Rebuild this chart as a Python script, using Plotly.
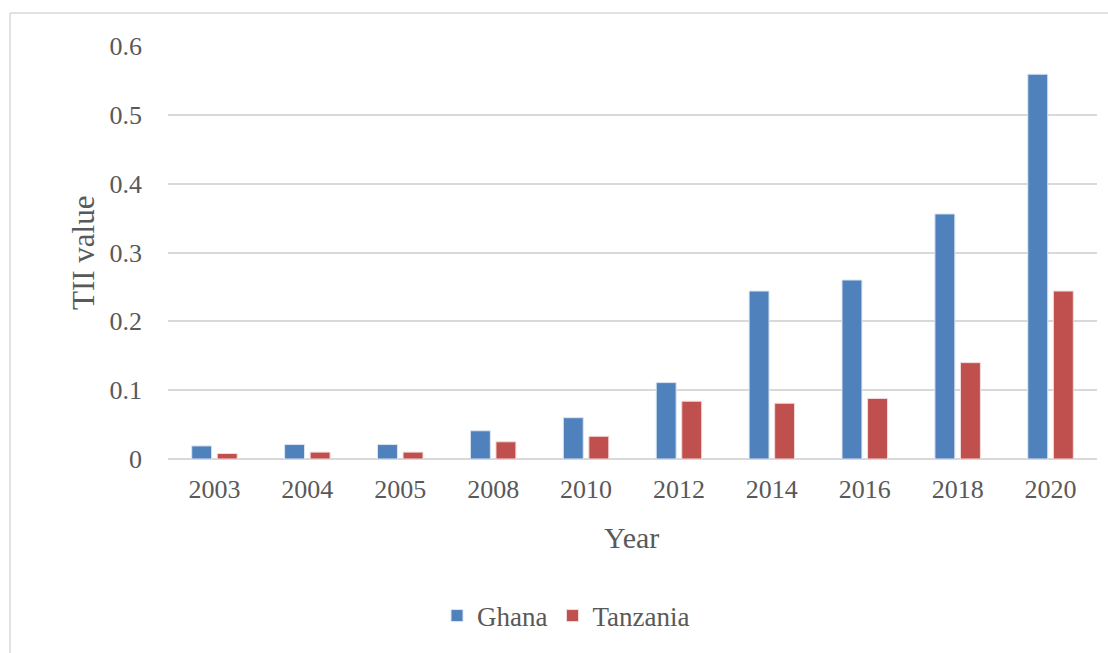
import plotly.graph_objects as go

years = ["2003", "2004", "2005", "2008", "2010", "2012", "2014", "2016", "2018", "2020"]
ghana = [0.019, 0.021, 0.021, 0.041, 0.060, 0.111, 0.244, 0.260, 0.356, 0.559]
tanzania = [0.008, 0.010, 0.010, 0.025, 0.033, 0.084, 0.081, 0.088, 0.140, 0.244]
y_ticks = [0, 0.1, 0.2, 0.3, 0.4, 0.5, 0.6]
y_tick_text = ["0", "0.1", "0.2", "0.3", "0.4", "0.5", "0.6"]

W, H = 1108, 653
L, R, T, B = 168, 11, 46, 194
pw, ph = W - L - R, H - T - B

def px_x(px):
    return (px - L) / pw

def px_y(py):
    return (H - B - py) / ph

FONT = "Liberation Serif"
GRAY = "#595959"

fig = go.Figure()
fig.add_trace(go.Bar(name="Ghana", x=years, y=ghana,
                     marker=dict(color="#4F81BD", line=dict(color="#dbe5f1", width=1))))
fig.add_trace(go.Bar(name="Tanzania", x=years, y=tanzania,
                     marker=dict(color="#C0504D", line=dict(color="#f2dcdb", width=1))))

fig.update_layout(
    width=W, height=H,
    margin=dict(l=L, r=R, t=T, b=B),
    paper_bgcolor="white", plot_bgcolor="white",
    barmode="group", bargap=0.45, bargroupgap=0.22,
    font=dict(family=FONT, color=GRAY, size=26),
    showlegend=True,
    legend=dict(orientation="h", x=px_x(566), y=px_y(616), xanchor="center", yanchor="middle",
                font=dict(family=FONT, size=27, color=GRAY), itemwidth=30,
                traceorder="normal"),
    xaxis=dict(type="category", showgrid=False, showline=False, zeroline=False,
               ticks="", ticklabelstandoff=12, tickfont=dict(size=26, color=GRAY)),
    yaxis=dict(range=[0, 0.6], tickvals=y_ticks, ticktext=y_tick_text,
               showgrid=True, gridcolor="#d9d9d9", gridwidth=1.5,
               zeroline=True, zerolinecolor="#d9d9d9", zerolinewidth=2,
               showline=False, ticks="", ticklabelstandoff=25,
               tickfont=dict(size=26, color=GRAY)),
    annotations=[
        dict(text="Year", x=px_x(631), y=px_y(537), xref="paper", yref="paper",
             showarrow=False, font=dict(family=FONT, size=30, color=GRAY),
             xanchor="center", yanchor="middle"),
        dict(text="TII value", x=px_x(83), y=px_y(253), xref="paper", yref="paper",
             showarrow=False, textangle=-90, font=dict(family=FONT, size=31, color=GRAY),
             xanchor="center", yanchor="middle"),
    ],
    shapes=[
        dict(type="line", xref="paper", yref="paper", x0=px_x(10), x1=px_x(1110),
             y0=px_y(13), y1=px_y(13), line=dict(color="#d9d9d9", width=1.5)),
        dict(type="line", xref="paper", yref="paper", x0=px_x(10), x1=px_x(10),
             y0=px_y(13), y1=px_y(660), line=dict(color="#d9d9d9", width=1.5)),
    ],
)

fig.write_html("out.html")
